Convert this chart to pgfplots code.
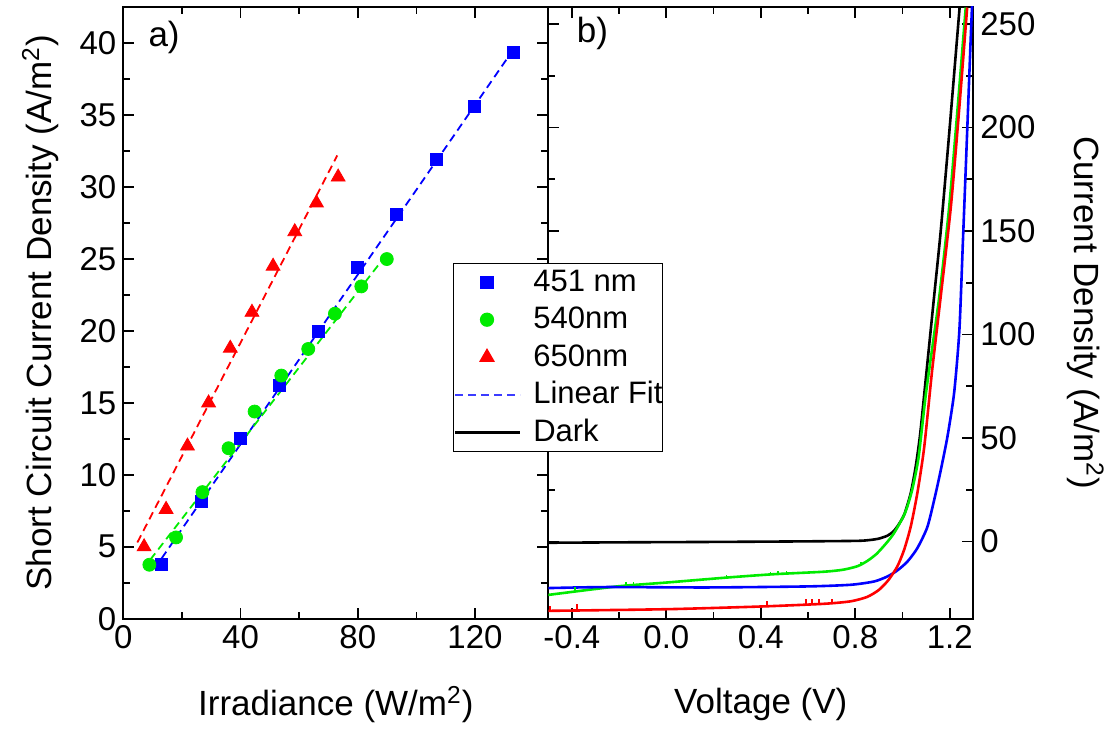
\documentclass[border=0pt]{standalone}
\usepackage{fontspec}
\setmainfont{Liberation Sans}
\usepackage{pgfplots}
\pgfplotsset{compat=1.18}

\definecolor{pblue}{RGB}{0,0,255}
\definecolor{pgreen}{RGB}{0,235,0}
\definecolor{pred}{RGB}{255,0,0}
\definecolor{fitblue}{RGB}{60,60,255}

\newcommand{\labfont}{\fontsize{17.5}{20}\selectfont}

\pgfplotsset{
  panel/.style={
    width=212.5pt, height=306pt, scale only axis,
    axis line style={line width=1pt},
    every tick/.style={black, line width=0.9pt},
    major tick length=5.5pt, minor tick length=3.5pt,
    tick label style={font=\fontsize{16.5}{18}\selectfont},
    /pgf/number format/assume math mode=true,
    minor x tick num=1, minor y tick num=1,
    unbounded coords=jump,
  },
  fit/.style={line width=0.9pt, dash pattern=on 4pt off 2.5pt},
  jv/.style={forget plot, line width=1.3pt, smooth, tension=0.4, line join=round},
  spike/.style={forget plot, line width=0.9pt},
}

\begin{document}
\begin{tikzpicture}
\useasboundingbox (-61.65pt,-56pt) rectangle (497.35pt,309.35pt);

% a) short circuit current vs irradiance
\begin{axis}[panel, at={(0pt,0pt)}, anchor=south west,
  xmin=0, xmax=145, ymin=0, ymax=42.54,
  xtick={0,40,80,120}, ytick={0,5,...,40},
  xlabel={Irradiance (W/m\textsuperscript{2})},
  ylabel={Short Circuit Current Density (A/m\textsuperscript{2})},
  every axis x label/.style={at={(axis description cs:0.5,-0.1405)}, anchor=center, font=\labfont},
  every axis y label/.style={at={(axis description cs:-0.195,0.5)}, anchor=center, rotate=90, font=\labfont},
]
\addplot[only marks, mark=square*, mark size=3pt, pblue] table {
x y
13.1 3.75
26.6 8.15
39.9 12.5
53.2 16.2
66.5 20.0
79.8 24.4
93.3 28.1
106.9 31.9
119.9 35.6
133.2 39.35
};
\addplot[only marks, mark=*, mark size=3.25pt, pgreen] table {
x y
8.9 3.75
18.0 5.65
27.0 8.8
35.9 11.85
44.8 14.4
53.9 16.9
63.1 18.75
72.2 21.2
81.2 23.1
89.9 25.0
};
\addplot[only marks, mark=triangle*, mark size=4pt, pred] table {
x y
7.1 5.0
14.6 7.6
21.9 12.0
29.1 15.0
36.5 18.8
43.9 21.3
51.1 24.5
58.5 26.9
65.9 28.9
73.3 30.7
};
\addplot[fit, pblue] coordinates {(13.1,4.2) (133.2,39.6)};
\addplot[fit, pgreen] coordinates {(9.2,4.1) (90.5,25.5)};
\addplot[fit, pred] coordinates {(4.8,5.3) (73.0,32.2)};
\node[font=\labfont] at (rel axis cs:0.096,0.950) {a)};
\end{axis}

% b) current density vs voltage
\begin{axis}[panel, at={(212.5pt,0pt)}, anchor=south west,
  xmin=-0.5, xmax=1.3, ymin=-37.3, ymax=258.4,
  xtick={-0.4,0,0.4,0.8,1.2}, ytick={0,50,...,250},
  yticklabel pos=right,
  xticklabel style={/pgf/number format/.cd, fixed, fixed zerofill, precision=1},
  xlabel={Voltage (V)},
  ylabel={Current Density (A/m\textsuperscript{2})},
  every axis x label/.style={at={(axis description cs:0.5,-0.1405)}, anchor=center, font=\labfont},
  every axis y label/.style={at={(axis description cs:1.2635,0.5)}, anchor=center, rotate=-90, font=\labfont},
  legend image code/.code={\draw[mark repeat=2,mark phase=2,#1] plot coordinates {(0pt,0pt) (16pt,0pt) (32.5pt,0pt)};},
  legend style={at={(-0.224,0.5817)}, anchor=north west, draw=black, line width=0.6pt,
    fill=white, inner sep=0pt, row sep=0pt, column sep=6pt,
    font=\fontsize{15.5}{18}\selectfont, cells={anchor=west},
    nodes={inner xsep=0pt, inner ysep=2.9pt, text height=11pt, text depth=2pt}},
  legend entries={451 nm, 540nm, 650nm, Linear Fit, Dark},
]
\addlegendimage{only marks, mark=square*, mark size=3pt, pblue}
\addlegendimage{only marks, mark=*, mark size=3.25pt, pgreen}
\addlegendimage{only marks, mark=triangle*, mark size=4pt, pred}
\addlegendimage{fit, fitblue}
\addlegendimage{black, line width=1.3pt}

\addplot[jv, black] table {
x y
-0.50 -0.6
-0.20 -0.4
0.20 -0.2
0.50 0.0
0.80 0.3
0.86 0.7
0.90 1.4
0.936 2.8
0.96 4.7
0.978 7.2
1.007 12.9
1.035 23.4
1.056 36.2
1.075 52
1.10 80
1.134 118.4
1.162 150
1.198 197.3
1.242 258
};
\addplot[jv, pgreen] table {
x y
-0.50 -25.8
-0.209 -21.7
0.003 -19.8
0.258 -17.4
0.455 -15.8
0.667 -14.6
0.75 -13.6
0.81 -11.9
0.851 -9.4
0.89 -6.0
0.93 -1.0
0.964 4.0
1.010 13.6
1.040 24.5
1.068 40.5
1.10 72
1.156 118.4
1.198 161.8
1.233 208.6
1.268 258
};
\addplot[jv, pblue] table {
x y
-0.50 -22.5
-0.252 -22.0
0.173 -22.2
0.597 -21.7
0.781 -20.9
0.880 -19.3
0.936 -16.9
0.978 -14.0
1.021 -9.7
1.063 -3.2
1.106 7.2
1.141 23.4
1.165 36
1.191 51
1.219 72
1.241 102
1.256 145
1.273 195
1.289 243
1.296 262
};
\addplot[jv, pred] table {
x y
-0.50 -33.5
0.003 -32.7
0.40 -31.4
0.667 -30.1
0.78 -28.9
0.85 -26.8
0.90 -23.4
0.940 -18.7
0.978 -12.1
1.007 -4.0
1.035 7.2
1.063 23.4
1.092 45.5
1.125 82
1.162 118.4
1.205 161.8
1.240 208.6
1.274 258
};
% measurement spikes
\addplot[spike, pgreen] table {
x y
-0.386 -24.2
-0.386 -21.9
nan nan
-0.170 -21.35
-0.170 -19.6
nan nan
-0.139 -21.07
-0.139 -19.4
nan nan
0.255 -17.4
0.255 -16.2
nan nan
0.441 -15.9
0.441 -14.6
nan nan
0.474 -15.7
0.474 -14.4
nan nan
0.509 -15.5
0.509 -14.4
nan nan
0.823 -11.0
0.823 -10.0
};
\addplot[spike, pred] table {
x y
-0.492 -33.5
-0.492 -31.0
nan nan
-0.379 -33.3
-0.379 -30.3
nan nan
0.427 -31.27
0.427 -28.7
nan nan
0.593 -30.46
0.593 -27.9
nan nan
0.618 -30.34
0.618 -27.9
nan nan
0.646 -30.2
0.646 -27.9
nan nan
0.703 -29.8
0.703 -27.9
};
\node[font=\labfont] at (rel axis cs:0.104,0.957) {b)};
\end{axis}
\end{tikzpicture}
\end{document}
